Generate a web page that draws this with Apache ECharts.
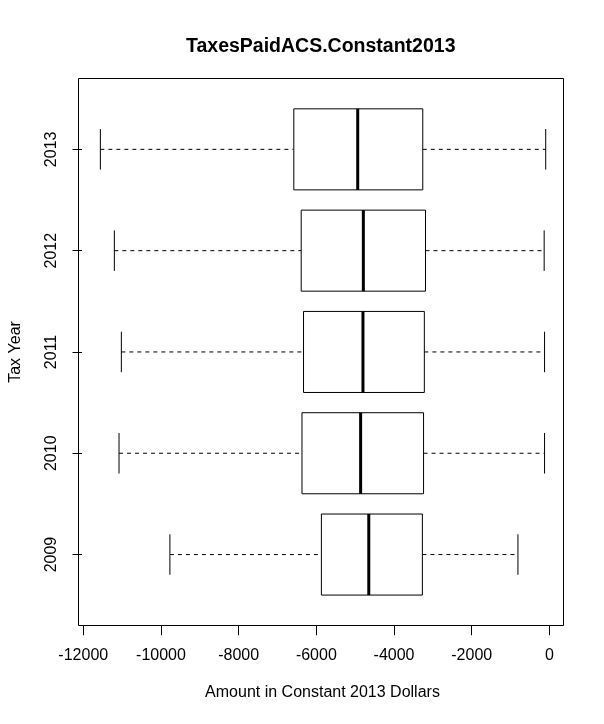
<!DOCTYPE html>
<html>
<head>
<meta charset="utf-8">
<script src="https://cdn.jsdelivr.net/npm/echarts@6/dist/echarts.min.js"></script>
<style>html,body{margin:0;padding:0;background:#fff}#c{width:604px;height:724px}</style>
</head>
<body>
<div id="c"></div>
<script>
// Categories (bottom to top)
const years = ['2009', '2010', '2011', '2012', '2013'];
// Five-number summaries
const lowWhisker = [-9770, -11080, -11020, -11200, -11560];
const q1 = [-5870, -6370, -6330, -6390, -6580];
const median = [-4650, -4860, -4800, -4790, -4935];
const q3 = [-3270, -3240, -3220, -3190, -3260];
const highWhisker = [-810, -125, -125, -135, -95];
const xTicks = [-12000, -10000, -8000, -6000, -4000, -2000, 0];

const boxData = years.map((y, i) => [i, lowWhisker[i], q1[i], median[i], q3[i], highWhisker[i]]);

const FONT = '"Liberation Sans", Arial, Helvetica, sans-serif';
const chart = echarts.init(document.getElementById('c'), null, {renderer: 'canvas'});

function renderBox(params, api) {
  const c = api.value(0);
  const pL = api.coord([api.value(1), c]);
  const p1 = api.coord([api.value(2), c]);
  const pm = api.coord([api.value(3), c]);
  const p3 = api.coord([api.value(4), c]);
  const pH = api.coord([api.value(5), c]);
  const band = api.size([0, 1])[1];
  const h = band * 0.8;
  const cap = h / 4;
  const y = pm[1];
  const dashStyle = {stroke: '#000', lineWidth: 1, lineDash: [4, 4], fill: null};
  const solid = {stroke: '#000', lineWidth: 1, fill: null};
  return {
    type: 'group',
    children: [
      {type: 'line', shape: {x1: pL[0], y1: y, x2: p1[0], y2: y}, style: dashStyle},
      {type: 'line', shape: {x1: p3[0], y1: y, x2: pH[0], y2: y}, style: dashStyle},
      {type: 'line', shape: {x1: pL[0], y1: y - cap, x2: pL[0], y2: y + cap}, style: solid},
      {type: 'line', shape: {x1: pH[0], y1: y - cap, x2: pH[0], y2: y + cap}, style: solid},
      {type: 'rect', shape: {x: p1[0], y: y - h / 2, width: p3[0] - p1[0], height: h},
        style: {stroke: '#000', lineWidth: 1, fill: '#fff'}},
      {type: 'line', shape: {x1: pm[0], y1: y - h / 2, x2: pm[0], y2: y + h / 2},
        style: {stroke: '#000', lineWidth: 3}}
    ]
  };
}

chart.setOption({
  animation: false,
  backgroundColor: '#fff',
  title: {
    text: 'TaxesPaidACS.Constant2013',
    left: 181, top: 31,
    textStyle: {fontFamily: FONT, fontSize: 19.5, fontWeight: 'bold', color: '#000', lineHeight: 22}
  },
  grid: {left: 78, width: 485, top: 98.7, height: 506.5, containLabel: false},
  xAxis: {
    type: 'value', min: -12033, max: 350,
    offset: 20.5,
    name: 'Amount in Constant 2013 Dollars',
    nameLocation: 'middle', nameGap: 59,
    nameTextStyle: {fontFamily: FONT, fontSize: 16, color: '#000'},
    axisLine: {show: false},
    splitLine: {show: false},
    axisTick: {show: true, length: 9.5, lineStyle: {color: '#000'}, customValues: xTicks},
    axisLabel: {customValues: xTicks, margin: 22, fontFamily: FONT, fontSize: 16, color: '#000',
      formatter: v => String(v)}
  },
  yAxis: {
    type: 'category', data: years,
    name: 'Tax Year', nameLocation: 'middle', nameGap: 58,
    nameTextStyle: {fontFamily: FONT, fontSize: 16, color: '#000'},
    axisLine: {show: false, onZero: false},
    splitLine: {show: false},
    axisTick: {show: true, alignWithLabel: true, length: 9.5, lineStyle: {color: '#000'}},
    axisLabel: {rotate: 90, margin: 22, fontFamily: FONT, fontSize: 16, color: '#000'}
  },
  graphic: [{
    type: 'rect', silent: true, z: 100,
    shape: {x: 78.5, y: 78.5, width: 485, height: 547},
    style: {stroke: '#000', lineWidth: 1, fill: null}
  }],
  series: [{
    type: 'custom',
    renderItem: renderBox,
    encode: {x: [1, 2, 3, 4, 5], y: 0},
    data: boxData
  }]
});
</script>
</body>
</html>
